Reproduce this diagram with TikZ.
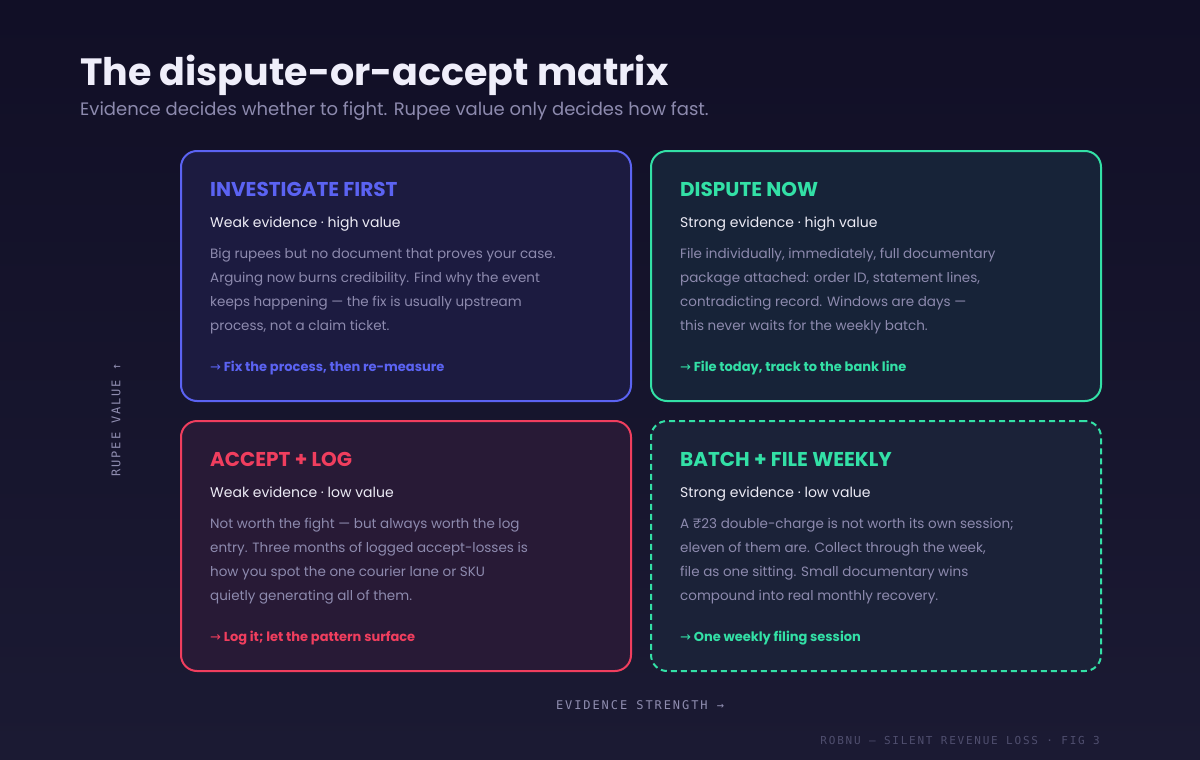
\documentclass[tikz,border=0pt]{standalone}
\usepackage{fontspec}
\setmainfont{Poppins}
\newfontfamily\axisfont[LetterSpace=16]{DejaVu Sans Mono}
\newfontfamily\arrowfont{DejaVu Sans}
\usepackage{xcolor}
\usetikzlibrary{positioning,calc}

\definecolor{bgtop}{HTML}{110F26}
\definecolor{bgbot}{HTML}{1B1A33}
\definecolor{indigo}{HTML}{5B63F2}
\definecolor{mint}{HTML}{33E0A6}
\definecolor{rose}{HTML}{F03E5E}
\definecolor{invfill}{HTML}{1C1B40}
\definecolor{dispfill}{HTML}{172338}
\definecolor{accfill}{HTML}{281A36}
\definecolor{batchfill}{HTML}{1B2238}
\definecolor{titlec}{HTML}{EFEEFA}
\definecolor{subc}{HTML}{ECEBF5}
\definecolor{bodyc}{HTML}{8D8AAE}
\definecolor{axisc}{HTML}{8F8DB0}
\definecolor{footc}{HTML}{4F4E6E}

\begin{document}
\begin{tikzpicture}[
    x=1pt, y=-1pt,
    card/.style={draw, line width=2pt, rounded corners=16pt, anchor=north west,
                 minimum width=450pt, minimum height=250pt, inner sep=0pt},
    head/.style={anchor=base west, inner sep=0pt, font=\fontsize{20}{24}\selectfont\bfseries},
    sub/.style={anchor=base west, inner sep=0pt, text=subc, font=\fontsize{14}{18}\selectfont},
    body/.style={anchor=base west, inner sep=0pt, align=left, text=bodyc,
                 font=\fontsize{13.5}{24}\selectfont},
    act/.style={anchor=base west, inner sep=0pt, font=\fontsize{13}{16}\selectfont\bfseries},
    axis/.style={inner sep=0pt, text=axisc, font=\axisfont\fontsize{12}{14}\selectfont},
]
% canvas 1200 x 760, y grows downwards
\shade[top color=bgtop, bottom color=bgbot] (0,0) rectangle (1200,760);
\useasboundingbox (0,0) rectangle (1200,760);

% ---------------- heading ----------------
\node[anchor=base west, inner sep=0pt, text=titlec, font=\fontsize{38}{44}\selectfont\bfseries]
    (title) at (80,85) {The dispute-or-accept matrix};
\node[anchor=base west, inner sep=0pt, text=bodyc, font=\fontsize{18}{22}\selectfont]
    (subtitle) at (80,115) {Evidence decides whether to fight. Rupee value only decides how fast.};

% ---------------- top row ----------------
% body nodes sit on the baseline of their last line
\node[card, draw=indigo, fill=invfill] (inv) at (180,150) {};
\node[head, text=indigo] (invhead) at (210,196) {INVESTIGATE FIRST};
\node[sub] (invsub) at (210,227) {Weak evidence · high value};
\node[body] (invbody) at (210,330) {Big rupees but no document that proves your case.\\
    Arguing now burns credibility. Find why the event\\
    keeps happening — the fix is usually upstream\\
    process, not a claim ticket.};
\node[act, text=indigo] (invact) at (210,371) {{\arrowfont\mdseries→} Fix the process, then re-measure};

\node[card, draw=mint, fill=dispfill] (disp) at (650,150) {};
\node[head, text=mint] (disphead) at (680,196) {DISPUTE NOW};
\node[sub] (dispsub) at (680,227) {Strong evidence · high value};
\node[body] (dispbody) at (680,330) {File individually, immediately, full documentary\\
    package attached: order ID, statement lines,\\
    contradicting record. Windows are days —\\
    this never waits for the weekly batch.};
\node[act, text=mint] (dispact) at (680,371) {{\arrowfont\mdseries→} File today, track to the bank line};

% ---------------- bottom row ----------------
\node[card, draw=rose, fill=accfill] (acc) at (180,420) {};
\node[head, text=rose] (acchead) at (210,466) {ACCEPT + LOG};
\node[sub] (accsub) at (210,497) {Weak evidence · low value};
\node[body] (accbody) at (210,600) {Not worth the fight — but always worth the log\\
    entry. Three months of logged accept-losses is\\
    how you spot the one courier lane or SKU\\
    quietly generating all of them.};
\node[act, text=rose] (accact) at (210,641) {{\arrowfont\mdseries→} Log it; let the pattern surface};

\node[card, draw=mint, fill=batchfill, dash pattern=on 6pt off 4pt] (batch) at (650,420) {};
\node[head, text=mint] (batchhead) at (680,466) {BATCH + FILE WEEKLY};
\node[sub] (batchsub) at (680,497) {Strong evidence · low value};
\node[body] (batchbody) at (680,600) {A ₹23 double-charge is not worth its own session;\\
    eleven of them are. Collect through the week,\\
    file as one sitting. Small documentary wins\\
    compound into real monthly recovery.};
\node[act, text=mint] (batchact) at (680,641) {{\arrowfont\mdseries→} One weekly filing session};

% ---------------- axes and footer ----------------
\node[axis, rotate=90] (yaxis) at (116,420) {RUPEE VALUE ↑};
\node[axis] (xaxis) at (640,705) {EVIDENCE STRENGTH →};
\node[axis, anchor=east, text=footc, font=\axisfont\fontsize{11}{13}\selectfont]
    (footer) at (1100,740) {ROBNU — SILENT REVENUE LOSS · FIG 3};
\end{tikzpicture}
\end{document}
